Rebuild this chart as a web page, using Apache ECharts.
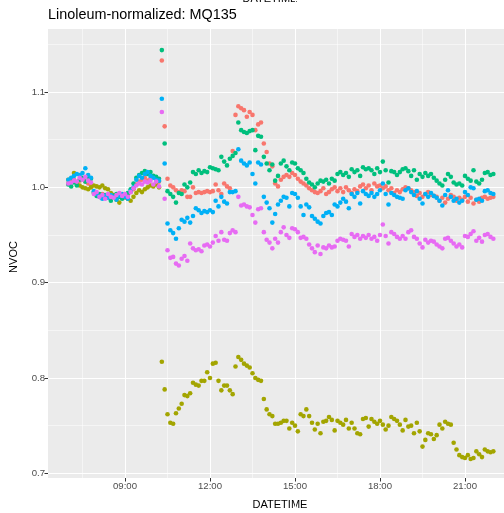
<!DOCTYPE html>
<html><head><meta charset="utf-8">
<script src="https://cdn.jsdelivr.net/npm/echarts@6/dist/echarts.min.js"></script>
<style>html,body{margin:0;padding:0;background:#fff}#c{width:504px;height:513px}</style>
</head><body><div id="c"></div>
<script>
const chartTitle = 'Linoleum-normalized: MQ135';
const xTitle = 'DATETIME';
const yTitle = 'NVOC';
const startHour = 7;
const stepMinutes = 6;
const xTickHours = [9, 12, 15, 18, 21];
const yTicks = [0.7, 0.8, 0.9, 1.0, 1.1];
const seriesNames = ['Sensor 1', 'Sensor 2', 'Sensor 3', 'Sensor 4', 'Sensor 5'];
const seriesColors = ['#F8766D', '#A3A500', '#00BF7D', '#00B0F6', '#E76BF3'];

const redValues = [
1.004,1.006,1.008,1.005,1.007,1.009,1.006,1.004,1.002,0.995,
0.992,0.990,0.993,0.989,0.991,0.988,0.992,0.990,0.993,0.991,
0.989,0.992,0.995,0.998,1.003,1.006,1.008,1.010,1.007,1.009,
1.011,1.008,1.006,1.133,1.064,1.009,1.002,1.000,0.997,0.995,
0.997,0.996,0.990,0.990,1.000,0.994,0.995,0.994,0.995,0.996,
0.995,0.996,1.003,0.997,0.993,1.004,1.001,0.999,1.038,1.076,
1.085,1.083,1.081,1.074,1.079,1.076,1.060,1.066,1.068,1.046,
1.037,1.025,1.022,1.004,1.001,1.008,1.011,1.013,1.011,1.015,
1.013,1.009,1.006,1.004,1.002,0.999,0.997,0.995,0.994,0.996,
0.999,0.993,0.995,0.998,1.000,0.996,0.999,0.995,1.000,0.997,
0.994,0.998,0.996,1.001,1.003,0.999,1.002,0.997,1.004,1.001,
1.002,0.999,1.001,0.997,0.999,0.994,0.997,0.995,0.998,1.000,
0.999,0.997,0.995,0.991,0.994,0.990,0.993,0.995,0.992,0.991,
0.990,0.986,0.989,0.984,0.988,0.992,0.990,0.986,0.989,0.987,
0.990,0.985,0.989,0.983,0.987,0.985,0.989,0.990,0.988,0.989,
0.990];

const oliveValues = [
1.008,1.006,1.015,1.004,1.002,1.000,0.999,0.998,1.000,1.002,
1.001,1.000,1.002,0.999,0.998,0.994,0.992,0.987,0.984,0.989,
0.993,0.988,0.986,0.990,0.994,0.997,0.995,0.998,1.000,1.002,
1.001,1.003,1.000,0.817,0.788,0.762,0.753,0.752,0.763,0.768,
0.773,0.782,0.781,0.784,0.795,0.793,0.792,0.797,0.797,0.806,
0.800,0.815,0.816,0.797,0.787,0.792,0.792,0.787,0.783,0.812,
0.822,0.819,0.815,0.813,0.811,0.805,0.800,0.798,0.797,0.778,
0.767,0.762,0.760,0.752,0.752,0.753,0.755,0.755,0.747,0.753,
0.750,0.744,0.762,0.760,0.767,0.760,0.753,0.746,0.752,0.742,
0.754,0.755,0.759,0.756,0.745,0.755,0.753,0.751,0.756,0.747,
0.753,0.747,0.742,0.741,0.757,0.758,0.749,0.757,0.754,0.752,
0.755,0.751,0.746,0.750,0.759,0.757,0.755,0.751,0.745,0.756,
0.749,0.750,0.742,0.753,0.744,0.728,0.735,0.742,0.741,0.736,
0.740,0.751,0.747,0.754,0.752,0.751,0.732,0.725,0.719,0.717,
0.716,0.719,0.715,0.716,0.723,0.720,0.717,0.725,0.723,0.722,
0.723];

const greenValues = [
1.003,1.001,1.005,1.002,1.008,1.010,1.006,1.011,1.009,0.994,
0.991,0.993,0.989,0.992,0.990,0.986,0.991,0.993,0.990,0.988,
0.991,0.994,0.998,1.004,1.010,1.013,1.015,1.017,1.014,1.016,
1.012,1.011,1.009,1.144,1.046,0.996,0.993,0.990,0.984,0.994,
0.993,1.003,1.000,1.005,1.016,1.014,1.018,1.015,1.017,1.016,
1.021,1.020,1.019,1.018,1.032,1.027,1.023,1.030,1.033,1.036,
1.068,1.060,1.058,1.057,1.059,1.060,1.039,1.054,1.053,1.032,
1.025,1.018,1.024,1.007,1.012,1.025,1.028,1.022,1.018,1.026,
1.025,1.020,1.018,1.015,1.009,1.005,1.003,1.000,1.004,1.007,
1.006,1.008,1.004,1.009,1.007,1.014,1.016,1.013,1.015,1.011,
1.019,1.016,1.018,1.012,1.021,1.019,1.020,1.018,1.014,1.020,
1.016,1.027,1.018,1.005,1.017,1.016,1.013,1.016,1.019,1.020,
1.017,1.012,1.018,1.008,1.014,1.011,1.015,1.012,1.014,1.010,
1.007,1.004,1.002,1.008,1.014,1.011,1.005,1.003,1.004,1.002,
1.012,1.009,1.007,1.018,1.006,1.004,1.008,1.015,1.016,1.013,
1.014];

const blueValues = [
1.008,1.010,1.012,1.014,1.013,1.015,1.020,1.013,1.010,0.996,
0.993,0.990,0.988,0.991,0.989,0.992,0.990,0.987,0.991,0.993,
0.990,0.988,0.996,1.000,1.008,1.012,1.010,1.014,1.016,1.012,
1.010,1.008,1.007,1.093,1.025,0.962,0.955,0.952,0.946,0.957,
0.966,0.964,0.968,0.963,0.970,0.978,0.976,0.973,0.975,0.974,
0.976,0.974,0.986,0.980,0.990,0.985,0.983,0.995,0.995,0.996,
1.040,1.028,1.025,1.023,1.026,1.014,1.004,1.026,1.024,0.990,
0.984,0.978,0.963,0.972,0.982,0.986,0.990,0.989,0.980,0.994,
0.993,0.989,0.980,0.971,0.982,0.979,0.970,0.967,0.964,0.962,
0.970,0.973,0.974,0.971,0.982,0.980,0.984,0.988,0.985,0.978,
0.993,0.990,0.994,0.983,0.996,0.993,0.991,0.994,0.990,0.993,
0.997,1.004,0.993,0.982,0.994,0.992,0.990,0.989,0.988,0.997,
0.999,0.995,0.992,0.996,0.988,0.983,0.993,0.990,0.994,0.991,
0.989,0.986,0.981,0.992,0.997,0.990,0.986,0.988,0.984,0.986,
0.995,0.992,1.000,0.999,0.987,0.988,0.986,0.996,0.997,0.994,
0.993];

const magentaValues = [
1.004,1.005,1.007,1.006,1.010,1.008,1.011,1.007,1.005,0.993,
0.995,0.990,0.992,0.988,0.993,0.990,0.989,0.992,0.994,0.991,
0.993,0.990,0.995,0.999,1.002,1.004,1.003,1.006,1.005,1.007,
1.003,1.006,1.001,1.079,0.988,0.934,0.926,0.927,0.920,0.918,
0.925,0.928,0.923,0.941,0.936,0.934,0.935,0.933,0.939,0.940,
0.938,0.942,0.949,0.944,0.953,0.945,0.944,0.952,0.955,0.953,
0.990,0.981,0.982,0.980,0.979,0.971,0.963,0.977,0.978,0.953,
0.945,0.942,0.936,0.946,0.942,0.953,0.958,0.950,0.947,0.957,
0.956,0.953,0.947,0.948,0.946,0.940,0.936,0.932,0.939,0.930,
0.937,0.936,0.939,0.937,0.938,0.944,0.946,0.945,0.944,0.938,
0.951,0.948,0.950,0.946,0.949,0.947,0.950,0.946,0.948,0.944,
0.950,0.961,0.949,0.941,0.953,0.951,0.948,0.946,0.949,0.946,
0.953,0.955,0.948,0.946,0.941,0.937,0.945,0.942,0.944,0.943,
0.940,0.938,0.936,0.946,0.947,0.944,0.941,0.938,0.940,0.937,
0.949,0.948,0.951,0.954,0.944,0.947,0.943,0.950,0.951,0.948,
0.946];

const allValues = [redValues, oliveValues, greenValues, blueValues, magentaValues];

function toPoints(vals) {
  return vals.map((v, i) => [startHour + i * stepMinutes / 60, v]);
}
function pad2(n) { return (n < 10 ? '0' : '') + n; }

const FONT = '"Liberation Sans", Arial, sans-serif';
const chart = echarts.init(document.getElementById('c'), null, {renderer: 'canvas', width: 504, height: 513});

const option = {
  animation: false,
  backgroundColor: '#FFFFFF',
  textStyle: {fontFamily: FONT},
  title: {
    text: chartTitle, left: 48, top: 8.5, padding: 0,
    textStyle: {fontSize: 14.4, fontWeight: 'normal', color: '#000000', fontFamily: FONT}
  },
  grid: {left: 40, right: -46, top: -3.3, bottom: -55.6, show: false, containLabel: false, outerBoundsMode: 'none'},
  xAxis: {
    type: 'value', min: 6, max: 24, interval: 3, offset: -90.6,
    axisLine: {show: false},
    axisTick: {show: true, customValues: xTickHours, length: 3.5, lineStyle: {color: '#333333', width: 1}},
    axisLabel: {customValues: xTickHours, formatter: v => pad2(Math.round(v)) + ':00', color: '#4D4D4D', fontSize: 9.6, margin: 3, fontFamily: FONT},
    splitLine: {show: true, lineStyle: {color: '#FFFFFF', width: 1.07}},
    minorTick: {show: false, splitNumber: 2},
    minorSplitLine: {show: true, lineStyle: {color: '#FFFFFF', width: 0.53}}
  },
  yAxis: {
    type: 'value', min: 0.6, max: 1.2, interval: 0.1, offset: -8,
    axisLine: {show: false},
    axisTick: {show: true, customValues: yTicks, length: 3.5, lineStyle: {color: '#333333', width: 1}},
    axisLabel: {customValues: yTicks, formatter: v => v.toFixed(1), color: '#4D4D4D', fontSize: 9.6, margin: 3, fontFamily: FONT},
    splitLine: {show: true, lineStyle: {color: '#FFFFFF', width: 1.07}},
    minorTick: {show: false, splitNumber: 2},
    minorSplitLine: {show: true, lineStyle: {color: '#FFFFFF', width: 0.53}}
  },
  graphic: [
    {type: 'rect', silent: true, z: -10, shape: {x: 48, y: 29, width: 456, height: 449}, style: {fill: '#EBEBEB'}},
    {type: 'text', silent: true, x: 270, y: -1.5, style: {text: xTitle, fontSize: 11, fontFamily: FONT, fill: '#000000', align: 'center', verticalAlign: 'middle'}},
    {type: 'text', silent: true, x: 280, y: 505, style: {text: xTitle, fontSize: 11, fontFamily: FONT, fill: '#000000', align: 'center', verticalAlign: 'middle'}},
    {type: 'text', silent: true, x: 14, y: 257, rotation: Math.PI / 2, style: {text: yTitle, fontSize: 11, fontFamily: FONT, fill: '#000000', align: 'center', verticalAlign: 'middle'}}
  ],
  series: allValues.map((vals, k) => ({
    type: 'scatter', name: seriesNames[k], data: toPoints(vals),
    symbol: 'circle', symbolSize: 4.6,
    itemStyle: {color: seriesColors[k], opacity: 1},
    emphasis: {disabled: true}
  }))
};
chart.setOption(option);
</script>
</body></html>
